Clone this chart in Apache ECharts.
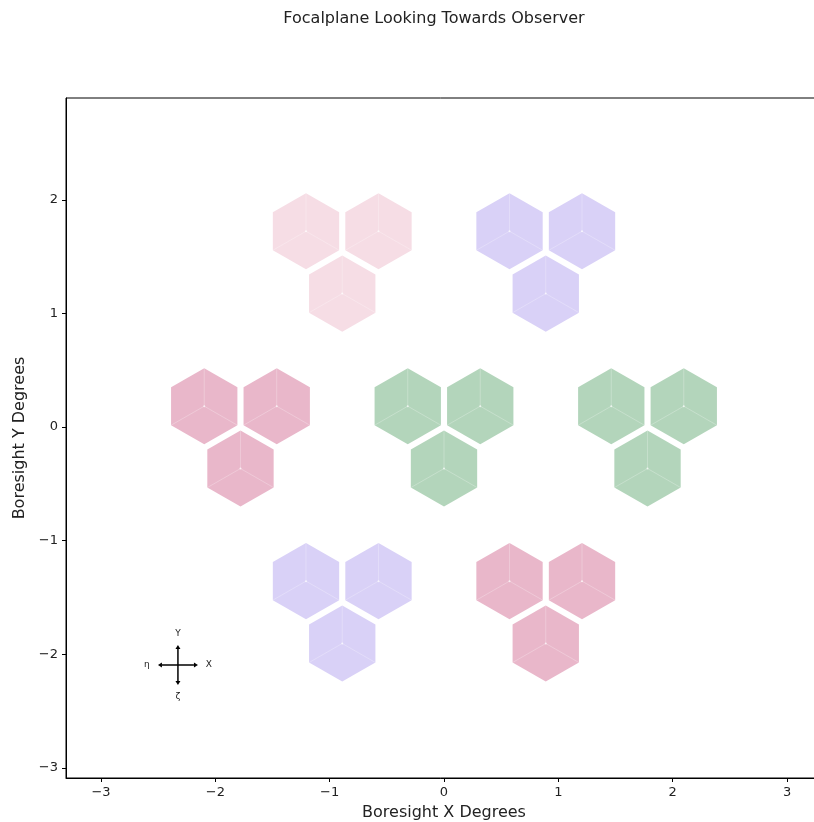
<!DOCTYPE html>
<html>
<head>
<meta charset="utf-8">
<script src="https://cdn.jsdelivr.net/npm/echarts@6/dist/echarts.min.js"></script>
<style>html,body{margin:0;padding:0;background:#fff;}#chart{width:814px;height:822px;}</style>
</head>
<body>
<div id="chart"></div>
<script>
// Wafer (hexagon) centres in degrees
const waferX = [-1.207, -0.573, -0.890,   0.573, 1.207, 0.890,
                -2.097, -1.463, -1.780,  -0.317, 0.317, 0.000,
                 1.463,  2.097,  1.780,  -1.207, -0.573, -0.890,
                 0.573,  1.207,  0.890];
const waferY = [ 1.723,  1.723,  1.174,   1.723, 1.723, 1.174,
                 0.183,  0.183, -0.366,   0.183, 0.183, -0.366,
                 0.183,  0.183, -0.366,  -1.357, -1.357, -1.906,
                -1.357, -1.357, -1.906];
// band group of each wafer
const waferGroup = [0,0,0, 1,1,1, 2,2,2, 3,3,3, 3,3,3, 1,1,1, 2,2,2];
const waferRadius = 0.335; // degrees, centre to corner

const xTicks = [-3, -2, -1, 0, 1, 2, 3];
const xTickLabels = ['\u22123', '\u22122', '\u22121', '0', '1', '2', '3'];
const yTicks = [-3, -2, -1, 0, 1, 2];
const yTickLabels = ['\u22123', '\u22122', '\u22121', '0', '1', '2'];

// compass position (degrees)
const compassPos = [[-2.327, -2.095]];

const groupColors = ['#f6dde5', '#d9d1f7', '#e9b7ca', '#b3d5bb'];
const FONT = 'DejaVu Sans';

const waferData = waferX.map((x, i) => [x, waferY[i], waferGroup[i]]);

function renderHex(params, api) {
  const cx = api.value(0), cy = api.value(1), g = api.value(2);
  const pts = [];
  for (let k = 0; k < 6; k++) {
    const a = Math.PI / 2 + k * Math.PI / 3;
    pts.push(api.coord([cx + waferRadius * Math.cos(a), cy + waferRadius * Math.sin(a)]));
  }
  const c = api.coord([cx, cy]);
  const ls = { stroke: 'rgba(255,255,255,0.25)', lineWidth: 1, fill: null };
  return {
    type: 'group',
    children: [
      { type: 'polygon', shape: { points: pts }, style: { fill: groupColors[g], stroke: null } },
      { type: 'polyline', shape: { points: [pts[0], c] }, style: ls },
      { type: 'polyline', shape: { points: [pts[2], c, pts[4]] }, style: ls },
      { type: 'circle', shape: { cx: c[0], cy: c[1], r: 1 }, style: { fill: 'rgba(255,255,255,0.7)' } }
    ]
  };
}

function renderCompass(params, api) {
  const c = api.coord([api.value(0), api.value(1)]);
  const L = 20, h = 4, w = 2.5;
  const x = c[0], y = c[1];
  const ls = { stroke: '#000', lineWidth: 1.5, fill: null };
  const as = { fill: '#000', stroke: null };
  const ts = (t, px, py) => ({ type: 'text', style: { text: t, x: px, y: py, fill: '#222', font: '9px "DejaVu Sans"', align: 'center', verticalAlign: 'middle' } });
  return {
    type: 'group',
    children: [
      { type: 'line', shape: { x1: x - L + h, y1: y, x2: x + L - h, y2: y }, style: ls },
      { type: 'line', shape: { x1: x, y1: y - L + h, x2: x, y2: y + L - h }, style: ls },
      { type: 'polygon', shape: { points: [[x + L, y], [x + L - h, y - w], [x + L - h, y + w]] }, style: as },
      { type: 'polygon', shape: { points: [[x - L, y], [x - L + h, y - w], [x - L + h, y + w]] }, style: as },
      { type: 'polygon', shape: { points: [[x, y - L], [x - w, y - L + h], [x + w, y - L + h]] }, style: as },
      { type: 'polygon', shape: { points: [[x, y + L], [x - w, y + L - h], [x + w, y + L - h]] }, style: as },
      ts('Y', x, y - 31),
      ts('X', x + 31, y),
      ts('\u03b7', x - 31, y),
      ts('\u03b6', x, y + 32)
    ]
  };
}

const chart = echarts.init(document.getElementById('chart'), null, { renderer: 'canvas' });
chart.setOption({
  animation: false,
  backgroundColor: '#fff',
  title: {
    text: 'Focalplane Looking Towards Observer',
    left: 429, top: 6, textAlign: 'center',
    textStyle: { fontFamily: FONT, fontSize: 16, fontWeight: 'normal', color: '#222' }
  },
  grid: {
    left: 66, top: 98, width: 756, height: 680,
    show: true, borderColor: '#000', borderWidth: 1, backgroundColor: 'transparent',
    containLabel: false, outerBoundsMode: 'none'
  },
  xAxis: {
    type: 'value', min: -3.306, max: 3.306,
    name: 'Boresight X Degrees', nameLocation: 'middle', nameGap: 27,
    nameTextStyle: { fontFamily: FONT, fontSize: 16, color: '#222' },
    axisLine: { show: true, onZero: false, lineStyle: { color: '#000', width: 1 } },
    axisTick: { show: true, inside: false, length: 4, customValues: xTicks, lineStyle: { color: '#000' } },
    axisLabel: { customValues: xTicks, margin: 8, fontFamily: FONT, fontSize: 13, color: '#222',
      formatter: v => xTickLabels[xTicks.indexOf(Math.round(v))] },
    splitLine: { show: false }
  },
  yAxis: {
    type: 'value', min: -3.09, max: 2.896,
    name: 'Boresight Y Degrees', nameLocation: 'middle', nameGap: 36,
    nameTextStyle: { fontFamily: FONT, fontSize: 16, color: '#222' },
    axisLine: { show: true, onZero: false, lineStyle: { color: '#000', width: 1 } },
    axisTick: { show: true, inside: false, length: 4, customValues: yTicks, lineStyle: { color: '#000' } },
    axisLabel: { customValues: yTicks, margin: 8, fontFamily: FONT, fontSize: 13, color: '#222',
      formatter: v => yTickLabels[yTicks.indexOf(Math.round(v))] },
    splitLine: { show: false }
  },
  series: [
    { type: 'custom', renderItem: renderHex, data: waferData, clip: true, silent: true },
    { type: 'custom', renderItem: renderCompass, data: compassPos, silent: true }
  ]
});
</script>
</body>
</html>
